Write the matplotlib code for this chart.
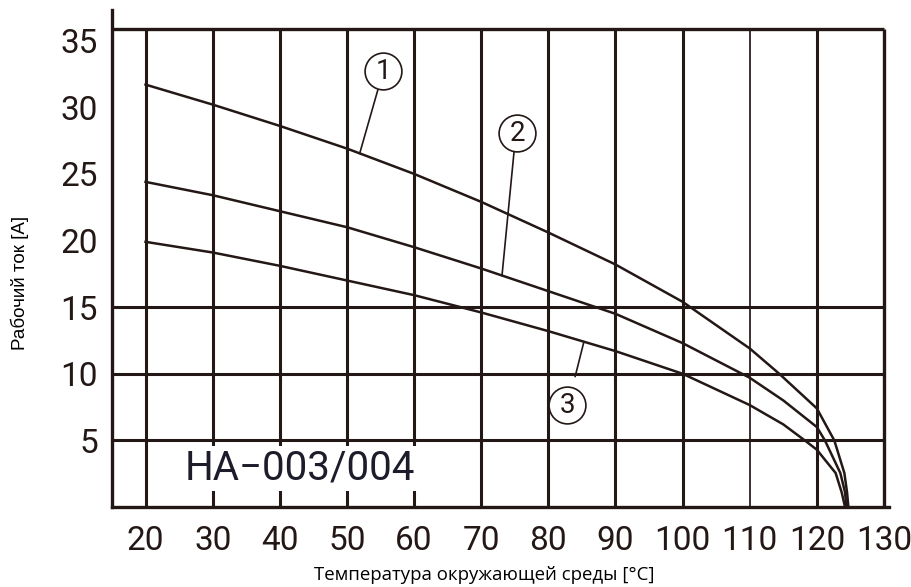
import numpy as np
import matplotlib
matplotlib.use('agg')
import matplotlib.pyplot as plt

# curve data (ambient temperature, working current)
temp_1 = [20, 30, 40, 50, 60, 70, 80, 90, 100, 110, 114.4, 120, 122.6, 124.1, 124.5, 124.7]
current_1 = [31.7, 30.2, 28.6, 26.9, 25.0, 22.9, 20.6, 18.2, 15.4, 11.9, 10.0, 7.4, 5.0, 2.55, 1.1, 0.0]

temp_2 = [20, 30, 40, 50, 60, 70, 80, 90, 100, 110, 115, 120, 121.2, 123.5, 124.2, 124.4]
current_2 = [24.4, 23.4, 22.2, 21.0, 19.5, 17.9, 16.2, 14.5, 12.3, 9.7, 8.0, 6.0, 5.0, 2.55, 1.1, 0.0]

temp_3 = [20, 30, 40, 50, 60, 70, 80, 90, 100, 110, 115, 118.2, 120, 122.8, 123.7, 124.2]
current_3 = [19.9, 19.1, 18.1, 17.0, 15.9, 14.6, 13.2, 11.7, 10.0, 7.65, 6.2, 5.0, 4.3, 2.55, 1.1, 0.0]

x_ticks = [20, 30, 40, 50, 60, 70, 80, 90, 100, 110, 120, 130]
y_ticks = [5, 10, 15, 20, 25, 30, 35]
h_lines = [5, 10, 15]

# circled labels: (text, circle x, circle y, leader start x, leader start y, leader end x)
labels = [
    ("1", 55.4, 32.7, 54.6, 31.3, 51.9),
    ("2", 75.4, 28.1, 74.9, 26.7, 73.1),
    ("3", 82.8, 7.65, 84.0, 9.8, 85.3),
]

ink = '#231815'
num_font = ['Roboto', 'Liberation Sans']

fig = plt.figure(figsize=(9.11, 5.87), dpi=100)
ax = fig.add_axes([112 / 911, 80 / 587, 777 / 911, 497 / 587])
ax.set_xlim(15, 130.75)
ax.set_ylim(0, 37.3)

top = 35.9
# grid frame
ax.vlines([x for x in x_ticks if x not in (110, 130)], 0, top, colors=ink, lw=2.2)
ax.vlines([110], 0, top, colors='#3a3130', lw=1.4)
ax.vlines([130], 0, top, colors=ink, lw=2.4)
ax.hlines(h_lines, 15, 130, colors=ink, lw=2.2)
ax.hlines([top], 15, 130, colors=ink, lw=2.4)

for sp in ['top', 'right']:
    ax.spines[sp].set_visible(False)
for sp in ['left', 'bottom']:
    ax.spines[sp].set_linewidth(2.4)
    ax.spines[sp].set_color(ink)

# curves
curves = [(temp_1, current_1), (temp_2, current_2), (temp_3, current_3)]
for t, c in curves:
    ax.plot(t, c, color=ink, lw=1.8, solid_joinstyle='round', zorder=3)

# circled numbers with leader lines
for (txt, cx, cy, lx, ly, ex), (t, c) in zip(labels, curves):
    ey = np.interp(ex, t, c)
    ax.plot([lx, ex], [ly, ey], color=ink, lw=1.2, zorder=3)
    ax.plot(cx, cy, marker='o', ms=26.5, mfc='white', mec=ink, mew=1.2, zorder=4)
    ax.text(cx, cy - 0.05, txt, ha='center', va='center', fontsize=20,
            family=num_font, color=ink, zorder=5)

# model text
ax.text(25.8, 2.9, "HA\u2212003/004", fontsize=29, family=num_font,
        color='#1c1c2a', ha='left', va='center', zorder=5,
        bbox=dict(boxstyle='square,pad=0.08', fc='white', ec='none'))

ax.set_xticks(x_ticks)
ax.set_yticks(y_ticks)
ax.tick_params(length=0, labelsize=24, colors=ink)
ax.tick_params(axis='x', pad=13)
ax.tick_params(axis='y', pad=10)
for lab in ax.get_xticklabels() + ax.get_yticklabels():
    lab.set_family(num_font)

fig.text(20 / 911, 1 - 283 / 587, "Рабочий ток [A]", rotation=90, ha='center', va='center',
         fontsize=13.5, family='Liberation Sans', color='black')
fig.text(484 / 911, 1 - 575 / 587, "Температура окружающей среды [°C]", ha='center', va='center',
         fontsize=13.4, family='Open Sans', color='black')

fig.savefig('out.png', dpi=100)
